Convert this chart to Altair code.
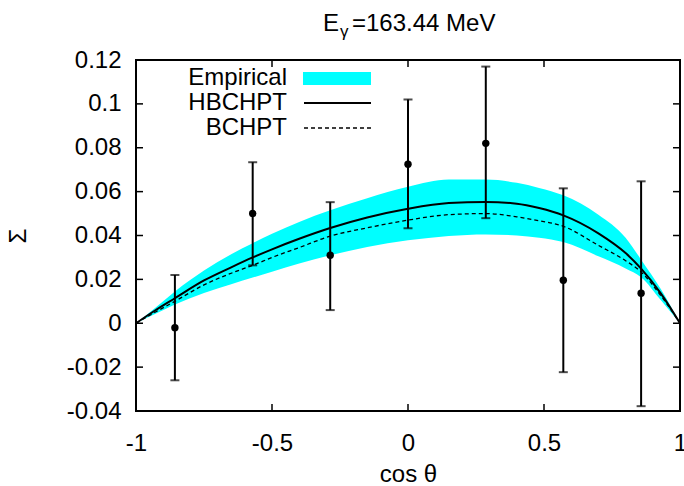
import altair as alt
import pandas as pd

# ---- curves ----
cos_theta = [-1.0, -0.93, -0.857, -0.75, -0.65, -0.571, -0.5, -0.4, -0.286, -0.15, 0.0,
             0.15, 0.286, 0.4, 0.482, 0.571, 0.7, 0.8, 0.857, 0.93, 1.0]
hbchpt = [0.0, 0.0058, 0.0114, 0.0195, 0.0255, 0.0300, 0.0337, 0.0385, 0.0434, 0.0482, 0.0522,
          0.0548, 0.0553, 0.0545, 0.0525, 0.0492, 0.0410, 0.0320, 0.0249, 0.0135, 0.0]
bchpt = [0.0, 0.0050, 0.0100, 0.0175, 0.0228, 0.0264, 0.0300, 0.0345, 0.0397, 0.0435, 0.0470,
         0.0495, 0.0500, 0.0485, 0.0467, 0.0442, 0.0355, 0.0285, 0.0234, 0.0125, 0.0]
empirical_low = [0.0, 0.0042, 0.0085, 0.0138, 0.0178, 0.0208, 0.0235, 0.0272, 0.0310, 0.0348, 0.0378,
                 0.0398, 0.0405, 0.0400, 0.0390, 0.0370, 0.0305, 0.0250, 0.0210, 0.0105, 0.0]
empirical_high = [0.0, 0.0070, 0.0145, 0.0240, 0.0315, 0.0365, 0.0408, 0.0462, 0.0515, 0.0570, 0.0622,
                  0.0655, 0.0655, 0.0640, 0.0617, 0.0583, 0.0495, 0.0390, 0.0290, 0.0155, 0.0]

# ---- measured data with error bars ----
data_x = [-0.857, -0.571, -0.286, 0.0, 0.286, 0.571, 0.857]
data_y = [-0.002, 0.050, 0.031, 0.0725, 0.082, 0.0196, 0.0137]
data_lo = [-0.026, 0.0264, 0.006, 0.0433, 0.0479, -0.0223, -0.0378]
data_hi = [0.022, 0.0734, 0.0552, 0.102, 0.117, 0.0615, 0.0647]

x_ticks = [-1, -0.5, 0, 0.5, 1]
y_ticks = [-0.04, -0.02, 0, 0.02, 0.04, 0.06, 0.08, 0.1, 0.12]

legend_labels = ["Empirical", "HBCHPT", "BCHPT"]
title_main = "=163.44 MeV"

W, H = 544, 351
FONT = "Liberation Sans"
FS = 24
TL = 7  # inner tick length

curves = pd.DataFrame({"x": cos_theta, "hb": hbchpt, "bc": bchpt,
                       "lo": empirical_low, "hi": empirical_high})
pts = pd.DataFrame({"x": data_x, "y": data_y, "lo": data_lo, "hi": data_hi})
xt = pd.DataFrame({"x": x_ticks})
yt = pd.DataFrame({"y": y_ticks})
one = pd.DataFrame({"k": [0]})

xs = alt.Scale(domain=[-1, 1], nice=False, zero=False)
ys = alt.Scale(domain=[-0.04, 0.12], nice=False, zero=False)

x_axis = alt.Axis(values=x_ticks, labelExpr="'' + datum.value", ticks=False, domain=False,
                  grid=False, labelFont=FONT, labelFontSize=FS, labelColor="black",
                  labelPadding=20, labelFlush=False, labelOverlap=False,
                  title="cos θ", titleFont=FONT, titleFontSize=FS, titleFontWeight="normal",
                  titleColor="black", titleX=W / 2, titleY=70, titleBaseline="alphabetic",
                  titleAlign="center")
y_axis = alt.Axis(values=y_ticks, labelExpr="'' + datum.value", ticks=False, domain=False,
                  grid=False, labelFont=FONT, labelFontSize=FS, labelColor="black",
                  labelPadding=15, labelFlush=False, labelOverlap=False,
                  title="Σ", titleFont=FONT, titleFontSize=FS, titleFontWeight="normal",
                  titleColor="black", titleX=-118, titleY=H / 2, titleAngle=-90,
                  titleBaseline="middle", titleAlign="center")


def X(f):
    return alt.X(f, type="quantitative", scale=xs, axis=x_axis)


def Y(f):
    return alt.Y(f, type="quantitative", scale=ys, axis=y_axis)


band = alt.Chart(curves).mark_area(color="#00FFFF", opacity=1, interpolate="monotone").encode(
    x=X("x"), y=Y("lo"), y2="hi")
hb_line = alt.Chart(curves).mark_line(color="black", strokeWidth=2, interpolate="monotone").encode(
    x=X("x"), y=Y("hb"))
bc_line = alt.Chart(curves).mark_line(color="black", strokeWidth=1.3, strokeDash=[4, 3],
                                      interpolate="monotone").encode(
    x=X("x"), y=Y("bc"))

err = alt.Chart(pts).mark_rule(color="black", strokeWidth=2).encode(
    x=X("x"), y=Y("lo"), y2="hi")
cap_lo = alt.Chart(pts).mark_tick(color="black", orient="horizontal", size=9, thickness=2).encode(
    x=X("x"), y=Y("lo"))
cap_hi = alt.Chart(pts).mark_tick(color="black", orient="horizontal", size=9, thickness=2).encode(
    x=X("x"), y=Y("hi"))
dots = alt.Chart(pts).mark_circle(color="black", size=55, opacity=1).encode(
    x=X("x"), y=Y("y"))

# inner mirrored ticks
yt_left = alt.Chart(yt).mark_rule(color="black", strokeWidth=1.5).encode(
    y=Y("y"), x=alt.value(0), x2=alt.value(TL))
yt_right = alt.Chart(yt).mark_rule(color="black", strokeWidth=1.5).encode(
    y=Y("y"), x=alt.value(W - TL), x2=alt.value(W))
xt_bottom = alt.Chart(xt).mark_rule(color="black", strokeWidth=1.5).encode(
    x=X("x"), y=alt.value(H - TL), y2=alt.value(H))
xt_top = alt.Chart(xt).mark_rule(color="black", strokeWidth=1.5).encode(
    x=X("x"), y=alt.value(0), y2=alt.value(TL))


# legend (inside, top-left)
def leg_text(label, yy):
    return alt.Chart(one).mark_text(font=FONT, fontSize=FS, align="right", baseline="middle",
                                    color="black").encode(
        x=alt.value(151), y=alt.value(yy), text=alt.value(label))


leg_box = alt.Chart(one).mark_rect(color="#00FFFF").encode(
    x=alt.value(167), x2=alt.value(235), y=alt.value(12), y2=alt.value(25))
leg_solid = alt.Chart(one).mark_rule(color="black", strokeWidth=2).encode(
    x=alt.value(168), x2=alt.value(235), y=alt.value(43))
leg_dash = alt.Chart(one).mark_rule(color="black", strokeWidth=1.3, strokeDash=[4, 3]).encode(
    x=alt.value(168), x2=alt.value(235), y=alt.value(68))

# title  E_gamma = 163.44 MeV
t_E = alt.Chart(one).mark_text(font=FONT, fontSize=FS, align="left", baseline="alphabetic",
                               color="black").encode(
    x=alt.value(187), y=alt.value(-29), text=alt.value("E"))
t_g = alt.Chart(one).mark_text(font=FONT, fontSize=17, align="left", baseline="alphabetic",
                               color="black").encode(
    x=alt.value(204), y=alt.value(-23), text=alt.value("γ"))
t_rest = alt.Chart(one).mark_text(font=FONT, fontSize=FS, align="left", baseline="alphabetic",
                                  color="black").encode(
    x=alt.value(216), y=alt.value(-29), text=alt.value(title_main))

chart = alt.layer(
    band, hb_line, bc_line, err, cap_lo, cap_hi, dots,
    yt_left, yt_right, xt_bottom, xt_top,
    leg_box, leg_solid, leg_dash,
    leg_text(legend_labels[0], 18), leg_text(legend_labels[1], 43), leg_text(legend_labels[2], 68),
    t_E, t_g, t_rest,
).properties(
    width=W, height=H,
    autosize=alt.AutoSizeParams(type="none"),
    padding={"left": 136, "top": 60, "right": 4, "bottom": 75},
    background="white",
).configure_view(stroke="black", strokeWidth=2)

chart.save("out.html", embed_options={"renderer": "svg", "actions": False})
